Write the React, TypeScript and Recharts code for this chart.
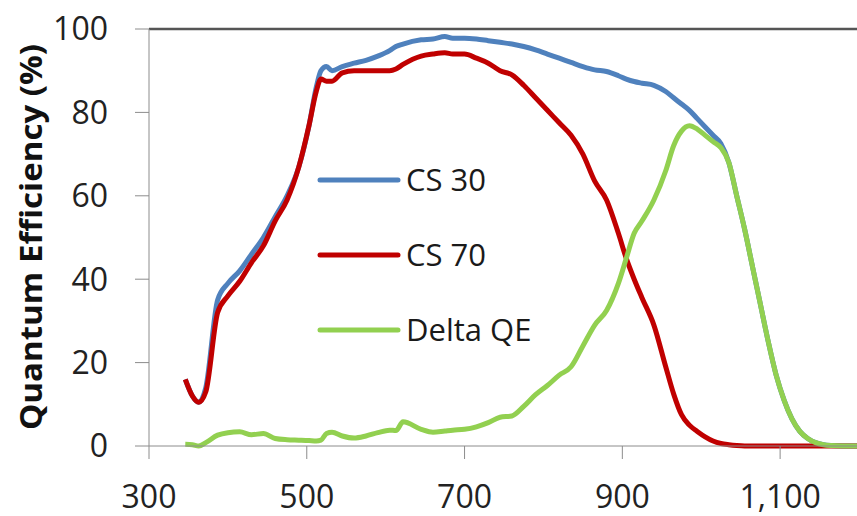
import React from "react";
import { LineChart, Line, XAxis, YAxis, ReferenceLine, Legend, Label } from "recharts";

const wavelengths = [
  346, 355, 363, 372, 387, 400, 415, 430, 445, 460, 475, 490, 503, 512, 518, 525, 532, 545, 560, 575,
  590, 605, 613, 622, 645, 660, 675, 685, 700, 715, 730, 745, 760, 775, 790, 805, 820, 835, 850, 865,
  880, 895, 905, 915, 925, 940, 955, 965, 975, 985, 995, 1005, 1015, 1025, 1035, 1045, 1055, 1065, 1075, 1085,
  1095, 1105, 1115, 1125, 1135, 1145, 1155, 1165, 1180, 1200,
];

const cs30 = [
  16, 12, 10.5, 14, 35, 39, 42, 46, 50, 55, 60, 67, 77, 86, 90, 91, 90, 91, 91.8, 92.5,
  93.5, 94.8, 95.8, 96.4, 97.4, 97.6, 98.2, 97.8, 97.8, 97.6, 97.2, 96.8, 96.4, 95.8, 95, 94, 93, 92, 91, 90.2,
  89.8, 88.8, 88, 87.4, 87, 86.5, 85, 83.5, 82, 80.5, 78.5, 76.5, 74.5, 72.5, 68, 60, 52, 43, 34, 25,
  17, 11, 6.5, 3.5, 1.8, 0.8, 0.3, 0.1, 0, 0,
];

const cs70 = [
  16, 12, 10.5, 13, 32, 36, 39.5, 44, 48, 54, 59, 67, 77, 85, 88, 87.5, 87.5, 89.5, 90, 90,
  90, 90, 90.4, 91.5, 93.5, 94, 94.3, 94, 94, 93, 91.8, 90, 89, 86.5, 83.5, 80.5, 77.5, 74.5, 70, 63.5,
  59, 51, 45, 40, 35.5, 29, 19, 12.5, 7.5, 5, 3.5, 2.2, 1.2, 0.6, 0.3, 0.1, 0, 0, 0, 0,
  0, 0, 0, 0, 0, 0, 0, 0, 0, 0,
];

const deltaQE = [
  0.4, 0.3, 0, 0.8, 2.6, 3.2, 3.4, 2.7, 3, 1.8, 1.5, 1.4, 1.3, 1.2, 1.4, 3, 3.3, 2.4, 1.9, 2.4,
  3.2, 3.8, 3.7, 5.8, 4, 3.3, 3.6, 3.8, 4, 4.6, 5.6, 6.9, 7.2, 9.5, 12.3, 14.5, 17, 19, 24, 29,
  32.5, 39, 45, 51, 54, 59, 66, 72, 75.5, 76.8, 76, 74.5, 73, 71.5, 68, 60, 52, 43, 34, 25,
  17, 11, 6.5, 3.5, 1.8, 0.8, 0.3, 0.1, 0, 0,
];

const xTicks = [300, 500, 700, 900, 1100];
const yTicks = [0, 20, 40, 60, 80, 100];

const seriesNames = ["CS 30", "CS 70", "Delta QE"];
const seriesColors = ["#4F81BD", "#C00000", "#92D050"];

const data = wavelengths.map((w, i) => ({
  wl: w,
  cs30: cs30[i],
  cs70: cs70[i],
  delta: deltaQE[i],
}));

const FONT = "'Open Sans', 'Noto Sans', sans-serif";

const renderLegend = () => (
  <svg width={240} height={210} style={{ display: "block" }}>
    {seriesNames.map((name, i) => {
      const y = 30 + i * 75;
      return (
        <g key={name}>
          <line x1={12} x2={90} y1={y} y2={y} stroke={seriesColors[i]} strokeWidth={5} strokeLinecap="round" />
          <text x={98} y={y + 11} fontSize={31} fontFamily={FONT} fill="#1a1a1a">
            {name}
          </text>
        </g>
      );
    })}
  </svg>
);

const renderYLabel = () => (
  <text
    x={30}
    y={237}
    transform="rotate(-90 30 237)"
    textAnchor="middle"
    dominantBaseline="central"
    fontSize={31}
    fontWeight={700}
    fontFamily={FONT}
    fill="#111"
    textLength={386}
    lengthAdjust="spacingAndGlyphs"
  >
    Quantum Efficiency (%)
  </text>
);

export default function App() {
  return (
    <div style={{ position: "fixed", left: 0, top: 0, width: 857, height: 516, background: "#fff", overflow: "hidden" }}>
      <LineChart width={859} height={516} data={data} margin={{ top: 29, right: 0, bottom: 10, left: 0 }}>
        <XAxis
          dataKey="wl"
          type="number"
          domain={[300, 1200]}
          ticks={xTicks}
          tickFormatter={(v: number) => v.toLocaleString("en-US")}
          height={60}
          tickSize={13}
          tickMargin={26}
          stroke="#8c8c8c"
          tick={{ fill: "#222", fontSize: 32, fontFamily: FONT }}
          interval={0}
          allowDataOverflow
        />
        <YAxis
          type="number"
          domain={[0, 100]}
          ticks={yTicks}
          width={149}
          tickSize={14}
          tickMargin={27}
          stroke="#8c8c8c"
          tick={{ fill: "#222", fontSize: 32, fontFamily: FONT }}
          interval={0}
        >
          <Label content={renderYLabel} />
        </YAxis>
        <ReferenceLine y={100} stroke="#555" strokeWidth={2.5} />
        <Legend
          content={renderLegend}
          layout="vertical"
          verticalAlign="middle"
          align="center"
          wrapperStyle={{ left: 308, top: 150, width: 240, height: 210 }}
        />
        <Line
          name={seriesNames[0]}
          dataKey="cs30"
          stroke={seriesColors[0]}
          strokeWidth={5}
          dot={false}
          type="monotone"
          isAnimationActive={false}
        />
        <Line
          name={seriesNames[1]}
          dataKey="cs70"
          stroke={seriesColors[1]}
          strokeWidth={5}
          dot={false}
          type="monotone"
          isAnimationActive={false}
        />
        <Line
          name={seriesNames[2]}
          dataKey="delta"
          stroke={seriesColors[2]}
          strokeWidth={5}
          dot={false}
          type="monotone"
          isAnimationActive={false}
        />
      </LineChart>
    </div>
  );
}
